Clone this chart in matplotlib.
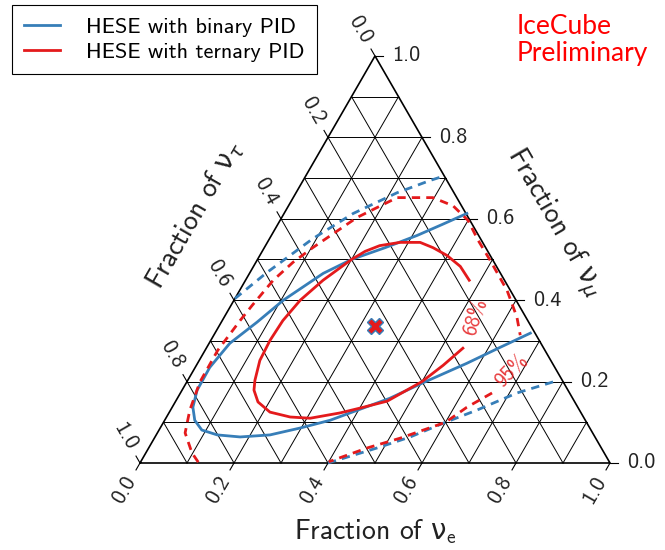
import numpy as np
import matplotlib
matplotlib.use("Agg")
import matplotlib.pyplot as plt
from matplotlib.lines import Line2D

plt.rcParams['font.family'] = ['cmss10', 'DejaVu Sans']
plt.rcParams['mathtext.fontset'] = 'custom'
plt.rcParams['mathtext.rm'] = 'cmss10'
plt.rcParams['mathtext.it'] = 'DejaVu Sans:italic'
plt.rcParams['mathtext.sf'] = 'DejaVu Sans'
plt.rcParams['axes.unicode_minus'] = False

# ---- data: flavour fractions (nu_e, nu_mu); nu_tau = 1 - e - mu ----
# ternary PID, 68% (open at the label gap on the right)
tern68_e = [0.476, 0.440, 0.398, 0.359, 0.325, 0.282, 0.243, 0.219, 0.200, 0.165,
            0.141, 0.129, 0.126, 0.129, 0.143, 0.153, 0.176, 0.214, 0.263, 0.307,
            0.364, 0.401, 0.450, 0.500, 0.525, 0.546]
tern68_mu = [0.449, 0.483, 0.510, 0.529, 0.542, 0.542, 0.534, 0.520, 0.500, 0.449,
             0.400, 0.350, 0.301, 0.252, 0.203, 0.179, 0.150, 0.125, 0.113, 0.110,
             0.123, 0.135, 0.152, 0.200, 0.240, 0.282]

# ternary PID, 95% (two pieces, split by the label)
tern95a_e = [0.123, 0.098, 0.059, 0.041, 0.028, 0.027, 0.038, 0.045, 0.059, 0.079,
             0.103, 0.160, 0.221, 0.297, 0.350, 0.400, 0.446, 0.496, 0.569, 0.623, 0.652]
tern95a_mu = [0.002, 0.025, 0.074, 0.130, 0.199, 0.277, 0.350, 0.387, 0.449, 0.493,
              0.529, 0.603, 0.652, 0.652, 0.632, 0.596, 0.547, 0.498, 0.424, 0.358, 0.314]
tern95b_e = [0.663, 0.627, 0.600, 0.523, 0.465, 0.400]
tern95b_mu = [0.172, 0.137, 0.100, 0.061, 0.037, 0.003]

# binary PID, 68%
bin68_e = [0.389, 0.350, 0.310, 0.257, 0.200, 0.157, 0.105, 0.076, 0.044, 0.031,
           0.032, 0.044, 0.064, 0.091, 0.130, 0.181, 0.242, 0.298, 0.352, 0.402,
           0.452, 0.502, 0.573, 0.624, 0.671]
bin68_mu = [0.613, 0.586, 0.559, 0.529, 0.500, 0.466, 0.400, 0.346, 0.294, 0.235,
            0.179, 0.137, 0.105, 0.081, 0.069, 0.064, 0.069, 0.086, 0.105, 0.132,
            0.159, 0.196, 0.245, 0.284, 0.319]

# binary PID, 95% (upper and lower branches)
bin95a_e = [0.000, 0.036, 0.092, 0.147, 0.215, 0.270, 0.296]
bin95a_mu = [0.404, 0.468, 0.551, 0.613, 0.664, 0.694, 0.706]
bin95b_e = [0.400, 0.486, 0.543, 0.600, 0.652, 0.716, 0.788]
bin95b_mu = [0.000, 0.037, 0.064, 0.100, 0.130, 0.172, 0.203]

# best fit
bf_e, bf_mu = 0.332, 0.336

# contour labels: (e, mu, text, rotation)
lab68 = (0.533, 0.360, '68%', 73)
lab95 = (0.677, 0.226, '95%', 46)

ticks = [0.0, 0.2, 0.4, 0.6, 0.8, 1.0]
tick_labels = ['0.0', '0.2', '0.4', '0.6', '0.8', '1.0']

BLUE = '#377eb8'
RED = '#e41a1c'
H = np.sqrt(3) / 2


def proj(e, mu):
    e = np.asarray(e, float)
    mu = np.asarray(mu, float)
    return e + mu / 2, mu * H


W, Hpx = 665, 550
fig = plt.figure(figsize=(W / 100, Hpx / 100), dpi=100)
ax = fig.add_axes([0, 0, 1, 1])
# triangle side = 470 px, bottom-left corner at pixel (140, 463)
ax.set_xlim(-140 / 470, (W - 140) / 470)
ax.set_ylim((463 - Hpx) / 470, 463 / 470)
ax.axis('off')

# grid
for v in np.arange(0.1, 1.0, 0.1):
    x, y = proj([1 - v, 0], [v, v])          # constant mu
    ax.plot(x, y, color='black', lw=0.7, zorder=1)
    x, y = proj([v, v], [0, 1 - v])          # constant e
    ax.plot(x, y, color='black', lw=0.7, zorder=1)
    x, y = proj([1 - v, 0], [0, 1 - v])      # constant tau
    ax.plot(x, y, color='black', lw=0.7, zorder=1)

# frame
x, y = proj([0, 1, 0, 0], [0, 0, 1, 0])
ax.plot(x, y, color='black', lw=1.2, zorder=2, solid_joinstyle='miter')

# ticks and tick labels
tl = 8 / 470
off = 31 / 470
for v, s in zip(ticks, tick_labels):
    # bottom: nu_e
    x0, y0 = proj(v, 0)
    d = np.array([-0.5, -H])
    ax.plot([x0, x0 + tl * d[0]], [y0, y0 + tl * d[1]], color='black', lw=0.8)
    ax.text(x0 + off * d[0], y0 + off * d[1], s, rotation=60, ha='center', va='center',
            rotation_mode='anchor', fontsize=16, color='#222222')
    # left: nu_tau
    x0, y0 = proj(0, 1 - v)
    d = np.array([-0.5, H])
    ax.plot([x0, x0 + tl * d[0]], [y0, y0 + tl * d[1]], color='black', lw=0.8)
    ax.text(x0 + off * d[0], y0 + off * d[1], s, rotation=-60, ha='center', va='center',
            rotation_mode='anchor', fontsize=16, color='#222222')
    # right: nu_mu
    x0, y0 = proj(1 - v, v)
    ax.plot([x0, x0 + tl], [y0, y0], color='black', lw=0.8)
    ax.text(x0 + off, y0, s, ha='center', va='center', fontsize=16, color='#222222')

# axis titles
ax.text(0.5, -0.145, r'Fraction of $\mathsf{\nu}_\mathrm{e}$', ha='center', va='center',
        fontsize=20, color='#222222')
ax.text(0.117, 0.528, r'Fraction of $\mathsf{\nu}_\tau$', ha='center', va='center',
        rotation=60, rotation_mode='anchor', fontsize=20, color='#222222')
ax.text(0.879, 0.511, r'Fraction of $\mathsf{\nu}_\mu$', ha='center', va='center',
        rotation=-60, rotation_mode='anchor', fontsize=20, color='#222222')

# contours
dash = (3, 2.2)
x, y = proj(bin95a_e, bin95a_mu)
ax.plot(x, y, color=BLUE, lw=2, dashes=dash, zorder=3)
x, y = proj(bin95b_e, bin95b_mu)
ax.plot(x, y, color=BLUE, lw=2, dashes=dash, zorder=3)
x, y = proj(bin68_e, bin68_mu)
ax.plot(x, y, color=BLUE, lw=2, zorder=3)
x, y = proj(tern95a_e, tern95a_mu)
ax.plot(x, y, color=RED, lw=2, dashes=dash, zorder=4)
x, y = proj(tern95b_e, tern95b_mu)
ax.plot(x, y, color=RED, lw=2, dashes=dash, zorder=4)
x, y = proj(tern68_e, tern68_mu)
ax.plot(x, y, color=RED, lw=2, zorder=4)

for e, mu, s, rot in (lab68, lab95):
    x, y = proj(e, mu)
    ax.text(x, y, s, rotation=rot, ha='center', va='center', rotation_mode='anchor',
            fontsize=15, color=RED, alpha=0.85, zorder=5)

x, y = proj(bf_e, bf_mu)
ax.plot(x, y, marker='X', markersize=11, color=RED, markeredgecolor=BLUE,
        markeredgewidth=1, zorder=6)

# legend
handles = [Line2D([], [], color=BLUE, lw=2), Line2D([], [], color=RED, lw=2)]
leg = fig.legend(handles, ['HESE with binary PID', 'HESE with ternary PID'],
                 loc='upper left', bbox_to_anchor=(12 / W, 1 - 5 / Hpx),
                 fontsize=16, handlelength=1.6, handletextpad=1.2, borderpad=0.55,
                 labelspacing=0.25, borderaxespad=0, fancybox=False, framealpha=1,
                 edgecolor='black')
leg.get_frame().set_linewidth(0.8)

fig.text(517 / W, 1 - 14 / Hpx, 'IceCube\nPreliminary', color='red', fontsize=19,
         family='Lato', ha='left', va='top', linespacing=1.1)

fig.savefig('out.png', dpi=100)
